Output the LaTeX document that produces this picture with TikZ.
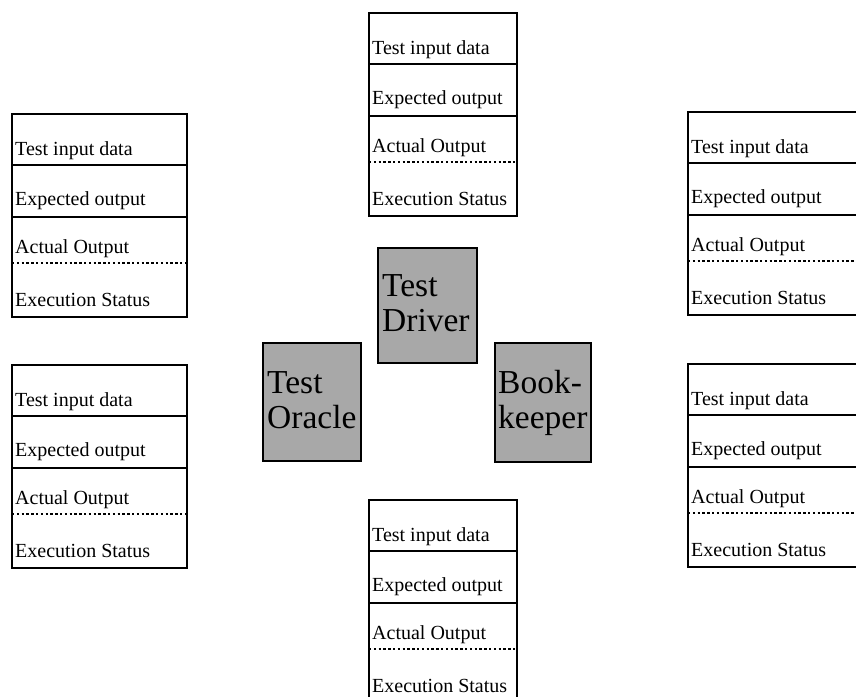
\documentclass[tikz,border=0pt]{standalone}
\usepackage{fontspec}
\setmainfont{Liberation Serif}
\tikzset{
  boxline/.style={line width=2pt},
  rowline/.style={line width=1.7pt},
  dotline/.style={line width=1.3pt, dash pattern=on 2.4pt off 2.4pt},
  tabtext/.style={inner sep=0pt, anchor=base west, font=\fontsize{20}{24}\selectfont},
  greybox/.style={draw, line width=2.8pt, fill=gray!68, inner sep=0pt},
  bigtext/.style={inner sep=0pt, anchor=base west, font=\fontsize{33.5}{36}\selectfont},
}
% #1 name, #2 left x, #3 right x, #4 top y
\newcommand{\recbox}[4]{%
  \coordinate (#1nw) at (#2,#4);
  \coordinate (#1se) at (#3,#4+203);
  \draw[boxline] (#1nw) rectangle (#1se);
  \coordinate (#1a) at (#2,#4+51);  \coordinate (#1ae) at (#3,#4+51);
  \coordinate (#1b) at (#2,#4+103); \coordinate (#1be) at (#3,#4+103);
  \coordinate (#1c) at (#2,#4+149); \coordinate (#1ce) at (#3,#4+149);
  \draw[rowline] (#1a) -- (#1ae);
  \draw[rowline] (#1b) -- (#1be);
  \draw[dotline] (#1c) -- (#1ce);
  \node[tabtext] (#1t1) at (#2+3,#4+41) {Test input data};
  \node[tabtext] (#1t2) at (#2+3,#4+91) {Expected output};
  \node[tabtext] (#1t3) at (#2+3,#4+139) {Actual Output};
  \node[tabtext] (#1t4) at (#2+3,#4+192) {Execution Status};
}
\begin{document}
\begin{tikzpicture}[x=1pt,y=-1pt]
\useasboundingbox[fill=white] (0,0) rectangle (856,696);

\recbox{top}{369}{517}{13}
\recbox{lt}{12}{187}{114}
\recbox{lb}{12}{187}{365}
\recbox{rt}{688}{875}{112}
\recbox{rb}{688}{875}{364}
\recbox{bot}{369}{517}{500}

% grey boxes
\node[greybox, minimum width=99pt, minimum height=115pt] (driver) at (427.5,305.5) {};
\node[bigtext] (driver1) at (382,296) {Test};
\node[bigtext] (driver2) at (382,331) {Driver};

\node[greybox, minimum width=98pt, minimum height=118pt] (oracle) at (312,402) {};
\node[bigtext] (oracle1) at (267,393) {Test};
\node[bigtext] (oracle2) at (267,428) {Oracle};

\node[greybox, minimum width=96pt, minimum height=119pt] (book) at (543,402.5) {};
\node[bigtext] (book1) at (498,393) {Book-};
\node[bigtext] (book2) at (498,428) {keeper};
\end{tikzpicture}
\end{document}
